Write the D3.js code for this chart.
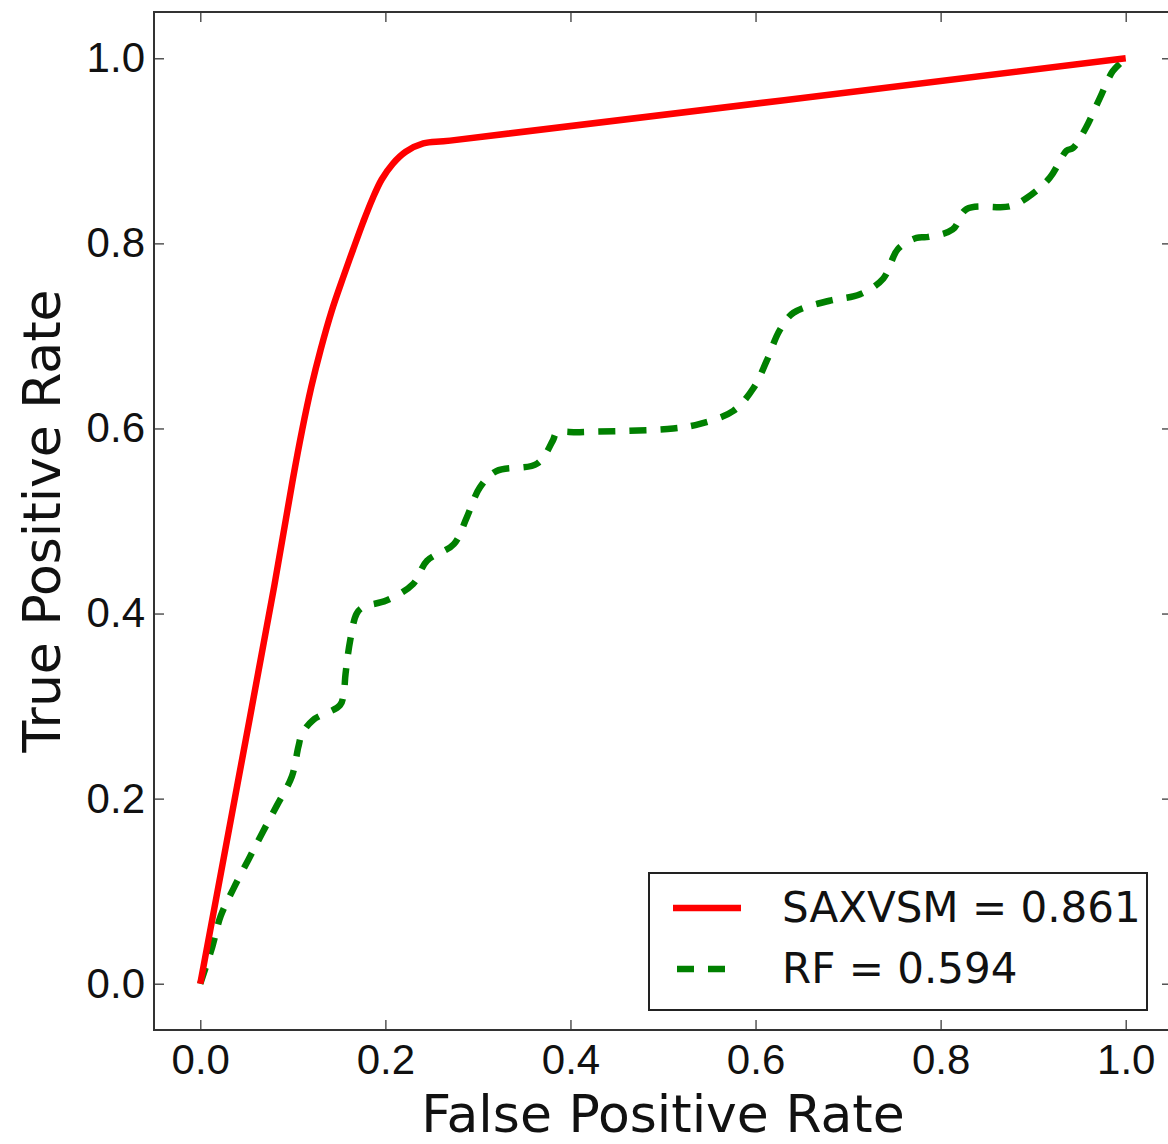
<!DOCTYPE html>
<html>
<head>
<meta charset="utf-8">
<script src="https://cdn.jsdelivr.net/npm/d3@7"></script>
<style>
  body { margin: 0; background: #fff; }
  svg { display: block; font-family: 'DejaVu Sans', sans-serif; }
</style>
</head>
<body>
<svg id="roc" width="1168" height="1144"></svg>
<script>
// ROC curves
const saxFpr = [0, 0.041, 0.08, 0.1, 0.11, 0.12, 0.13, 0.142, 0.155, 0.165, 0.176, 0.186, 0.196, 0.208, 0.222, 0.241, 0.27, 1.0];
const saxTpr = [0, 0.22, 0.43, 0.545, 0.598, 0.645, 0.685, 0.727, 0.765, 0.793, 0.823, 0.848, 0.869, 0.886, 0.899, 0.908, 0.911, 1.0];

const rfFpr = [0, 0.013, 0.022, 0.036, 0.052, 0.067, 0.083, 0.099, 0.106, 0.110, 0.122, 0.151, 0.155,
  0.157, 0.162, 0.169, 0.176, 0.201, 0.230, 0.245, 0.274, 0.288, 0.302, 0.320, 0.364, 0.381, 0.385,
  0.410, 0.511, 0.540, 0.576, 0.598, 0.612, 0.626, 0.641, 0.680, 0.713, 0.738, 0.754, 0.774, 0.787,
  0.813, 0.828, 0.875, 0.893, 0.918, 0.936, 0.943, 0.957, 0.972, 0.986, 1.0];
const rfTpr = [0, 0.040, 0.073, 0.103, 0.134, 0.163, 0.193, 0.224, 0.256, 0.270, 0.285, 0.301, 0.314,
  0.335, 0.371, 0.400, 0.407, 0.414, 0.432, 0.457, 0.475, 0.504, 0.536, 0.554, 0.562, 0.587, 0.595,
  0.596, 0.600, 0.605, 0.619, 0.644, 0.673, 0.706, 0.725, 0.738, 0.745, 0.762, 0.794, 0.806, 0.807,
  0.815, 0.837, 0.840, 0.849, 0.871, 0.900, 0.903, 0.925, 0.957, 0.986, 1.0];

const seriesNames = ['SAXVSM = 0.861', 'RF = 0.594'];
const ticks = [0.0, 0.2, 0.4, 0.6, 0.8, 1.0];

const svg = d3.select('svg#roc');
const margin = {top: 12, left: 154},
  width = 1018,
  height = 1018,
  g = svg.append('g').attr('transform', `translate(${margin.left},${margin.top})`);

const x = d3.scaleLinear().domain([-0.05, 1.05]).range([0, width]);
const y = d3.scaleLinear().domain([-0.05, 1.05]).range([height, 0]);

const fmt = d3.format('.1f');

// inward ticks on all four sides
function styleAxis(sel, labels) {
  sel.select('.domain').remove();
  sel.selectAll('.tick line').attr('stroke', '#555').attr('stroke-width', 1.5);
  sel.selectAll('.tick text')
    .attr('fill', '#111')
    .style('font-size', '42px')
    .style('display', labels ? null : 'none');
}

g.append('g')
  .attr('transform', `translate(0,${height})`)
  .call(d3.axisBottom(x).tickValues(ticks).tickFormat(fmt).tickSizeInner(-10).tickSizeOuter(0).tickPadding(14))
  .call(styleAxis, true);
g.append('g')
  .call(d3.axisTop(x).tickValues(ticks).tickSizeInner(-10).tickSizeOuter(0))
  .call(styleAxis, false);
g.append('g')
  .call(d3.axisLeft(y).tickValues(ticks).tickFormat(fmt).tickSizeInner(-10).tickSizeOuter(0).tickPadding(9))
  .call(styleAxis, true);
g.append('g')
  .attr('transform', `translate(${width},0)`)
  .call(d3.axisRight(y).tickValues(ticks).tickSizeInner(-10).tickSizeOuter(0))
  .call(styleAxis, false);

g.append('rect')
  .attr('width', width)
  .attr('height', height)
  .attr('fill', 'none')
  .attr('stroke', '#333')
  .attr('stroke-width', 2);

const line = d3.line()
  .x((d) => x(d[0]))
  .y((d) => y(d[1]))
  .curve(d3.curveCatmullRom.alpha(0.5));

g.append('path')
  .datum(d3.zip(rfFpr, rfTpr))
  .attr('d', line)
  .attr('fill', 'none')
  .attr('stroke', '#008000')
  .attr('stroke-width', 6.5)
  .attr('stroke-dasharray', '17,14');

g.append('path')
  .datum(d3.zip(saxFpr, saxTpr))
  .attr('d', line)
  .attr('fill', 'none')
  .attr('stroke', '#ff0000')
  .attr('stroke-width', 6.5)
  .attr('stroke-linejoin', 'round');

// axis titles
svg.append('text')
  .attr('x', margin.left + width / 2)
  .attr('y', 1132)
  .attr('text-anchor', 'middle')
  .style('font-size', '52px')
  .attr('fill', '#111')
  .text('False Positive Rate');

svg.append('text')
  .attr('transform', `translate(60,${margin.top + height / 2}) rotate(-90)`)
  .attr('text-anchor', 'middle')
  .style('font-size', '52px')
  .attr('fill', '#111')
  .text('True Positive Rate');

// legend
const legend = svg.append('g').attr('transform', 'translate(649,873)');
legend.append('rect')
  .attr('width', 498)
  .attr('height', 137)
  .attr('fill', '#fff')
  .attr('stroke', '#222')
  .attr('stroke-width', 2);

const legendStyles = [
  {color: '#ff0000', dash: null, x0: 24, x1: 92},
  {color: '#008000', dash: '17,14', x0: 28, x1: 77}
];
seriesNames.forEach(function(name, i) {
  const row = legend.append('g').attr('transform', `translate(0,${35 + i * 61})`);
  row.append('line')
    .attr('x1', legendStyles[i].x0)
    .attr('x2', legendStyles[i].x1)
    .attr('stroke', legendStyles[i].color)
    .attr('stroke-width', 6.5)
    .attr('stroke-dasharray', legendStyles[i].dash);
  row.append('text')
    .attr('x', 133)
    .attr('y', 14)
    .style('font-size', '42px')
    .attr('fill', '#111')
    .text(name);
});
</script>
</body>
</html>
